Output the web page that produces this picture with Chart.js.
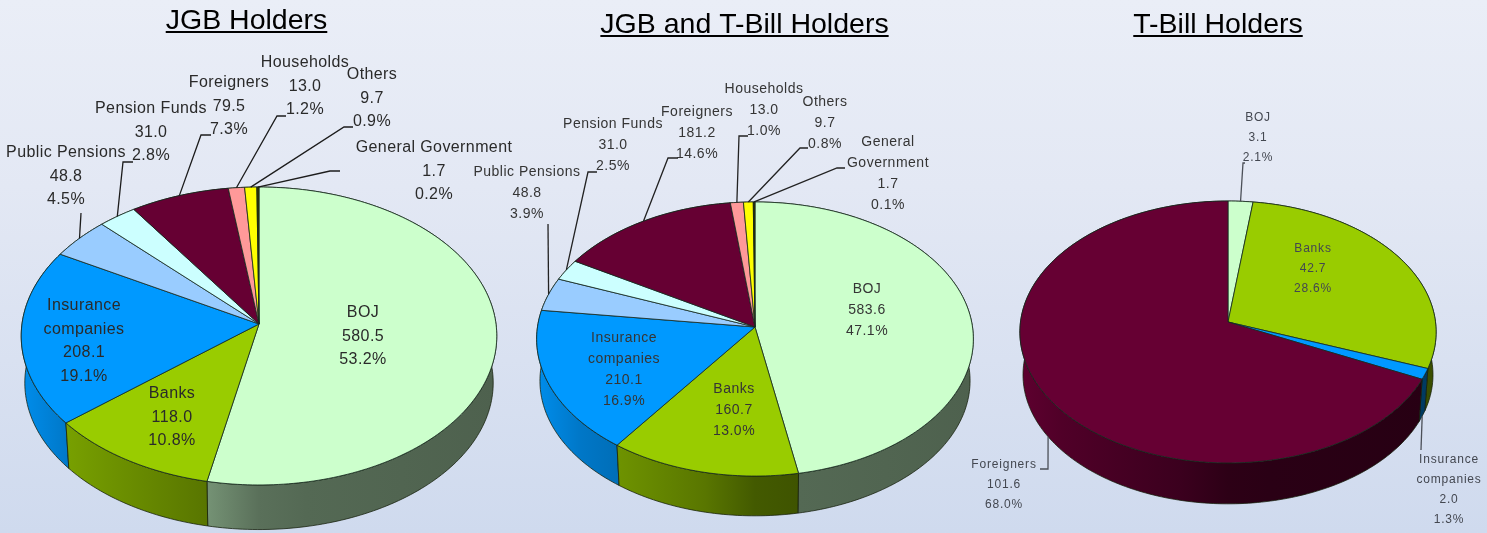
<!DOCTYPE html>
<html><head><meta charset="utf-8">
<style>
html,body{margin:0;padding:0;width:1487px;height:533px;overflow:hidden;background:linear-gradient(180deg,#eaeef7 0%,#e3e8f4 35%,#cfdaee 100%);}
canvas{position:absolute;left:0;top:0;filter:blur(0.35px);}
</style>
<script src="https://cdn.jsdelivr.net/npm/chart.js@4"></script>
</head><body>
<canvas id="c1" width="1487" height="533"></canvas>
<canvas id="c2" width="1487" height="533"></canvas>
<canvas id="c3" width="1487" height="533"></canvas>
<script>
// ---- data ----
const titles = ['JGB Holders', 'JGB and T-Bill Holders', 'T-Bill Holders'];
const categories = ['BOJ','Banks','Insurance companies','Public Pensions','Pension Funds','Foreigners','Households','Others','General Government'];
const jgbValues   = [580.5,118.0,208.1,48.8,31.0,79.5,13.0,9.7,1.7];
const jgbPercents = [53.2,10.8,19.1,4.5,2.8,7.3,1.2,0.9,0.2];
const allValues   = [583.6,160.7,210.1,48.8,31.0,181.2,13.0,9.7,1.7];
const allPercents = [47.1,13.0,16.9,3.9,2.5,14.6,1.0,0.8,0.1];
const tbCategories = ['BOJ','Banks','Insurance companies','Foreigners'];
const tbValues   = [3.1,42.7,2.0,101.6];
const tbPercents = [2.1,28.6,1.3,68.0];
const colors = {'BOJ':'#ccffcc','Banks':'#99cc00','Insurance companies':'#0099ff','Public Pensions':'#99ccff','Pension Funds':'#ccffff','Foreigners':'#660033','Households':'#ff9999','Others':'#ffff00','General Government':'#333300'};

// ---- layout (view of each pie, text anchors, leader elbows) ----
const views = [
 {cx:259,ay:324,R:237,S:148,k:0.0805,d:47},
 {cx:755,ay:327,R:217.5,S:136,k:0.0876,d:42},
 {cx:1228,ay:322,R:207.5,S:130.2,k:0.0763,d:43}
];
const titleLayouts = [{x:246.5,y:29},{x:744.5,y:33},{x:1218,y:33}];
const fontStyles = [
 {size:16,spacing:0.4,lh:23.5,color:'#2a2a2a',line:'#1c1c1c'},
 {size:14,spacing:0.5,lh:21,color:'#353535',line:'#222222'},
 {size:12,spacing:0.8,lh:20,color:'#434750',line:'#4c5058'}
];
const labelLayouts = [
 [{x:363,y:313},{x:172,y:394},{x:84,y:306,wrap:true},{x:66,y:153},{x:151,y:109},{x:229,y:83},{x:305,y:63},{x:372,y:75},{x:434,y:148}],
 [{x:867,y:289},{x:734,y:389},{x:624,y:338,wrap:true},{x:527,y:172},{x:613,y:124},{x:697,y:112},{x:764,y:89},{x:825,y:102},{x:888,y:142,wrap:true}],
 [{x:1258,y:118},{x:1313,y:249},{x:1449,y:460,wrap:true},{x:1004,y:465}]
];
const leaderLayouts = [
 [null,null,null,[[81,213]],[[133,162],[123,162]],[[211,135],[201,135]],[[286,116],[277,116]],[[353,127],[344,127]],[[340,171],[330,171]]],
 [null,null,null,[[548,224]],[[597,172],[588,172]],[[678,158],[668,158]],[[748,136],[739,136]],[[808,148],[800,148]],[[845,168],[837,168]]],
 [[[1245,163],[1243,163]],null,{base:true,pts:[[1421,450]]},{base:true,pts:[[1040,469],[1048,469]]}]
];
const wallShadeStops = [[0,0.92],[0.1,0.78],[0.385,0.58],[0.5,0.44],[0.6,0.41],[1,0.38]];

// perspective projection of a point on the disc
function project(v,a,lower){
  const u=Math.cos(a), w=Math.sin(a), q=1-v.k*w, f=lower?0.985:1;
  return {x:v.cx+f*v.R*u/q, y:v.ay+(lower?v.d:0)+f*v.S*w/q};
}
function shade(hex,f){
  const n=parseInt(hex.slice(1),16);
  return 'rgb('+[(n>>16)&255,(n>>8)&255,n&255].map(c=>Math.round(c*f)).join(',')+')';
}
function rimPts(v,s,e,lower){
  const n=Math.max(2,Math.ceil((e-s)/0.02)), p=[];
  for(let i=0;i<=n;i++) p.push(project(v,s+(e-s)*i/n,lower));
  return p;
}
const pie3d={
  id:'pie3d',
  beforeDatasetsDraw(chart,args,o){
    const ctx=chart.ctx, v=o.view, arcs=chart.getDatasetMeta(0).data, cols=chart.data.datasets[0].backgroundColor;
    const order=arcs.map((a,i)=>i).sort((i,j)=>Math.sin((arcs[i].startAngle+arcs[i].endAngle)/2)-Math.sin((arcs[j].startAngle+arcs[j].endAngle)/2));
    ctx.save();
    ctx.lineJoin='round';
    // side wall
    for(const i of order){
      const a=arcs[i], top=rimPts(v,a.startAngle,a.endAngle,false), low=rimPts(v,a.startAngle,a.endAngle,true);
      const g=ctx.createLinearGradient(v.cx-v.R,0,v.cx+v.R,0);
      wallShadeStops.forEach(s=>g.addColorStop(s[0],shade(cols[i],s[1])));
      ctx.beginPath();
      top.forEach((p,n)=>n?ctx.lineTo(p.x,p.y):ctx.moveTo(p.x,p.y));
      low.reverse().forEach(p=>ctx.lineTo(p.x,p.y));
      ctx.closePath();
      ctx.fillStyle=g; ctx.fill();
      ctx.strokeStyle='rgba(20,30,10,0.75)'; ctx.lineWidth=1; ctx.stroke();
    }
    // top face
    arcs.forEach((a,i)=>{
      const top=rimPts(v,a.startAngle,a.endAngle,false);
      ctx.beginPath(); ctx.moveTo(v.cx,v.ay);
      top.forEach(p=>ctx.lineTo(p.x,p.y));
      ctx.closePath();
      ctx.fillStyle=cols[i]; ctx.fill();
      ctx.strokeStyle='rgba(20,40,30,0.8)'; ctx.lineWidth=1; ctx.stroke();
    });
    ctx.restore();
    return false;
  },
  afterDraw(chart,args,o){
    const ctx=chart.ctx, v=o.view, arcs=chart.getDatasetMeta(0).data, st=o.font;
    ctx.save();
    // leaders
    ctx.strokeStyle=st.line; ctx.lineWidth=1.3;
    o.leaders.forEach((l,i)=>{
      if(!l) return;
      const base=!!l.base, pts=l.pts||l, a=arcs[i];
      const s=project(v,(a.startAngle+a.endAngle)/2,base);
      ctx.beginPath();
      pts.forEach((p,n)=>n?ctx.lineTo(p[0],p[1]):ctx.moveTo(p[0],p[1]));
      ctx.lineTo(s.x,s.y); ctx.stroke();
    });
    // labels
    ctx.fillStyle=st.color; ctx.textAlign='center'; ctx.textBaseline='middle';
    ctx.font=st.size+'px "Liberation Sans"'; ctx.letterSpacing=st.spacing+'px';
    o.labels.forEach((p,i)=>{
      const name=chart.data.labels[i];
      const lines=(p.wrap?name.split(' '):[name]).concat([o.values[i].toFixed(1),o.percents[i].toFixed(1)+'%']);
      lines.forEach((t,n)=>ctx.fillText(t,p.x,p.y+n*st.lh));
    });
    // title
    ctx.letterSpacing='0px';
    ctx.fillStyle='#000'; ctx.font='28.5px "Liberation Sans"'; ctx.textBaseline='alphabetic';
    ctx.fillText(o.title,o.titlePos.x,o.titlePos.y);
    const w=ctx.measureText(o.title).width;
    ctx.fillRect(o.titlePos.x-w/2,o.titlePos.y+2,w,2);
    ctx.restore();
  }
};
function build(id,idx,cats,vals,pcts){
  new Chart(document.getElementById(id),{
    type:'pie',
    data:{labels:cats,datasets:[{data:vals,backgroundColor:cats.map(c=>colors[c])}]},
    options:{responsive:false,animation:false,
      plugins:{legend:{display:false},tooltip:{enabled:false},
        pie3d:{view:views[idx],labels:labelLayouts[idx],leaders:leaderLayouts[idx],values:vals,percents:pcts,font:fontStyles[idx],title:titles[idx],titlePos:titleLayouts[idx]}}},
    plugins:[pie3d]
  });
}
build('c1',0,categories,jgbValues,jgbPercents);
build('c2',1,categories,allValues,allPercents);
build('c3',2,tbCategories,tbValues,tbPercents);
</script>
</body></html>
